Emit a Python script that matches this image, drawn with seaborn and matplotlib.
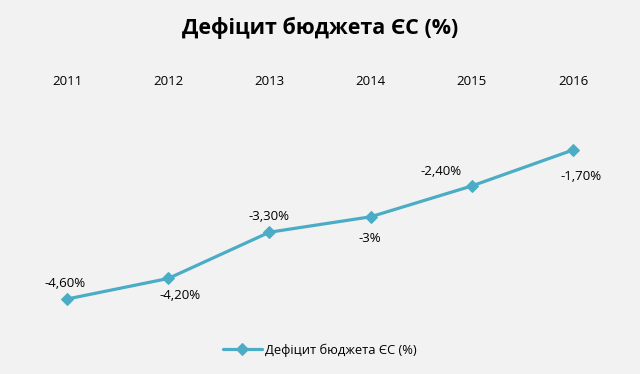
import matplotlib
matplotlib.use("Agg")
import matplotlib.pyplot as plt
import seaborn as sns
import pandas as pd

years = ["2011", "2012", "2013", "2014", "2015", "2016"]
values = [-4.6, -4.2, -3.3, -3.0, -2.4, -1.7]
labels = ["-4,60%", "-4,20%", "-3,30%", "-3%", "-2,40%", "-1,70%"]
series_name = "Дефіцит бюджета ЄС (%)"

sns.set_style("white")
plt.rcParams['font.family'] = ['Open Sans', 'DejaVu Sans']

bg = "#F2F2F2"
color = "#4BACC6"

fig = plt.figure(figsize=(6.4, 3.74), dpi=100, facecolor=bg)
W, H = 640, 374
left, right, top, bottom = 16.4, 623.6, 114, 319.6
ax = fig.add_axes([left / W, 1 - bottom / H, (right - left) / W, (bottom - top) / H])
ax.set_facecolor(bg)

df = pd.DataFrame({"year": years, "value": values})
sns.lineplot(data=df, x="year", y="value", ax=ax, color=color, linewidth=2.3,
             marker="D", markersize=6, markeredgecolor=color, label=series_name,
             sort=False)

ax.set_xlim(-0.5, 5.5)
ax.set_ylim(-5, -1)
ax.xaxis.tick_top()
ax.tick_params(axis="x", length=0, pad=19, labelsize=9.5, colors="#000000")
ax.set_yticks([])
ax.set_xlabel("")
ax.set_ylabel("")
for s in ax.spines.values():
    s.set_visible(False)

offsets = [(-2, 16), (12, -17), (0, 16), (-1, -22), (-31, 14), (8, -27)]
for i, (v, lab) in enumerate(zip(values, labels)):
    ax.annotate(lab, (i, v), xytext=offsets[i], textcoords="offset pixels",
                ha="center", va="center", fontsize=9.5, color="#000000")

fig.text(0.5, 1 - 28 / H, "Дефіцит бюджета ЄС (%)", ha="center", va="center",
         fontsize=15.5, fontweight="bold", color="#000000")

leg = ax.legend(loc="center", bbox_to_anchor=(0.5, (bottom - 350) / (bottom - top)),
                frameon=False, fontsize=9.3, handlelength=3, handletextpad=0.3)
for t in leg.get_texts():
    t.set_color("#000000")

fig.savefig("out.png", dpi=100, facecolor=bg)
